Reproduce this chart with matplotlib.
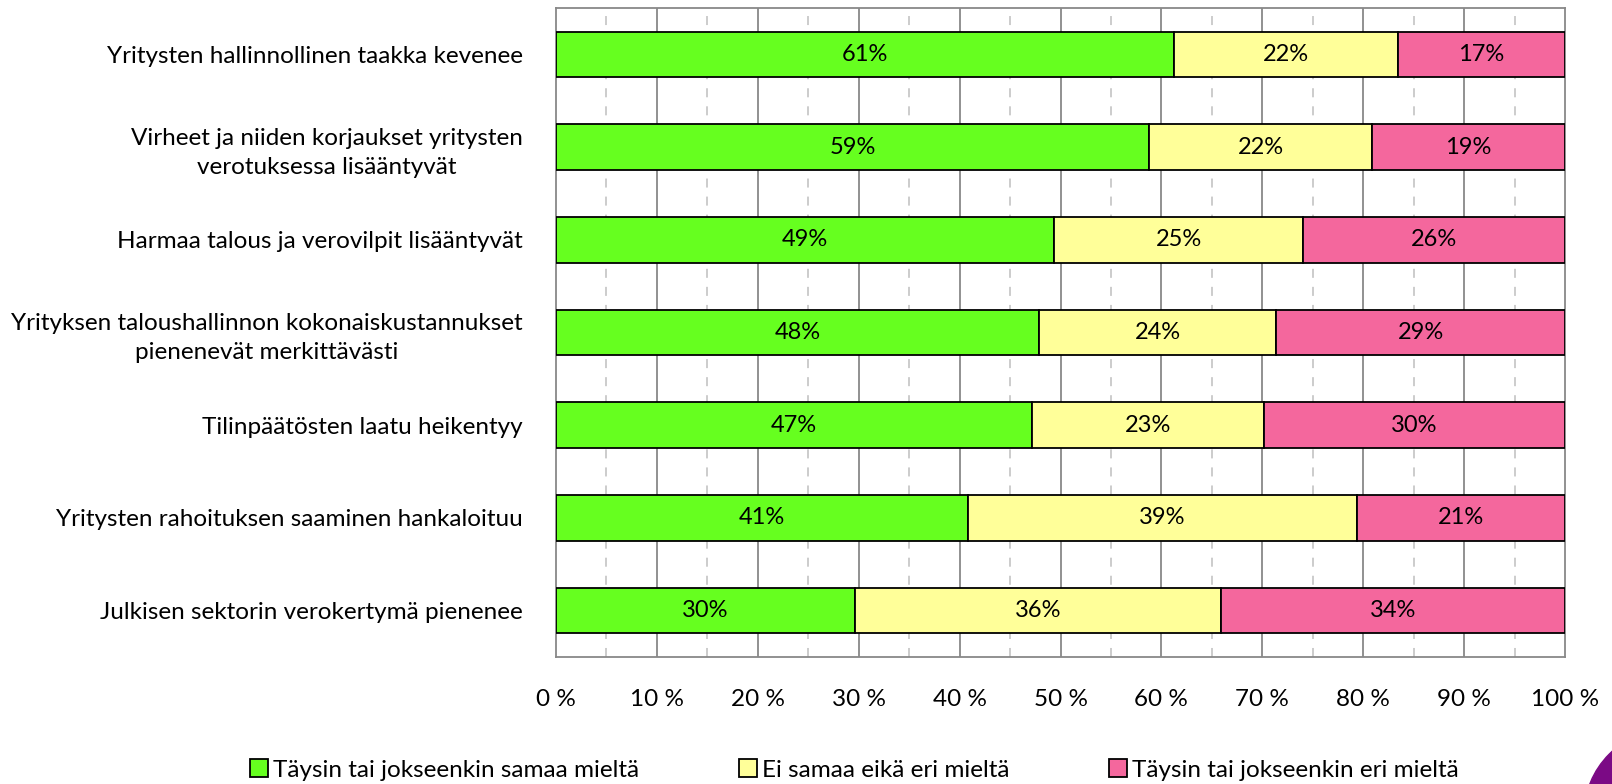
import matplotlib.pyplot as plt
import numpy as np
from matplotlib.patches import Circle
from matplotlib.transforms import IdentityTransform

plt.rcParams['font.family'] = ['Lato', 'DejaVu Sans']

categories = [
    "Yritysten hallinnollinen taakka kevenee",
    "Virheet ja niiden korjaukset yritysten\nverotuksessa lisääntyvät",
    "Harmaa talous ja verovilpit lisääntyvät",
    "Yrityksen taloushallinnon kokonaiskustannukset\npienenevät merkittävästi",
    "Tilinpäätösten laatu heikentyy",
    "Yritysten rahoituksen saaminen hankaloituu",
    "Julkisen sektorin verokertymä pienenee",
]
agree = [61.2, 58.8, 49.4, 47.9, 47.2, 40.8, 29.6]
neutral = [22.2, 22.1, 24.6, 23.5, 23.0, 38.6, 36.3]
disagree = [16.6, 19.1, 26.0, 28.6, 29.8, 20.6, 34.1]
series_names = ["Täysin tai jokseenkin samaa mieltä",
                "Ei samaa eikä eri mieltä",
                "Täysin tai jokseenkin eri mieltä"]
colors = ["#66FF1F", "#FFFF99", "#F4679D"]

fig = plt.figure(figsize=(16.12, 7.84), dpi=100)
ax = fig.add_axes([556/1612, 1-657/784, (1565-556)/1612, (657-8)/784])

y = np.arange(len(categories))
left = np.zeros(len(categories))
for vals, name, col in zip([agree, neutral, disagree], series_names, colors):
    vals = np.array(vals)
    ax.barh(y, vals, left=left, height=0.49, color=col,
            edgecolor='black', linewidth=1.3, label=name, zorder=3)
    for yi, l, v in zip(y, left, vals):
        ax.text(l + v/2, yi, f"{round(v):.0f}%", ha='center', va='center',
                fontsize=17, zorder=4)
    left += vals

ax.set_xlim(0, 100)
ax.set_ylim(len(categories) - 0.5, -0.5)
ax.set_yticks(y)
ax.set_yticklabels(categories, fontsize=17.5, multialignment='center',
                   linespacing=1.45)
ax.set_xticks(np.arange(0, 101, 10))
ax.set_xticklabels([f"{v} %" for v in range(0, 101, 10)], fontsize=17.5)
ax.tick_params(axis='x', length=0, pad=23)
ax.tick_params(axis='y', length=0, pad=24)
for v in range(10, 100, 10):
    ax.axvline(v, color='#888888', linewidth=1.3, zorder=1)
for v in range(5, 100, 10):
    ax.axvline(v, color='#c8c8c8', linewidth=1.3, linestyle=(0, (5, 5)), zorder=1)
for s in ax.spines.values():
    s.set_color('#888888')
    s.set_linewidth(1.3)

handles, labels = ax.get_legend_handles_labels()
fig.legend(handles, labels, loc='center', bbox_to_anchor=(0.53, 1-770/784),
           ncol=3, frameon=False, fontsize=17.5, handlelength=0.75,
           handleheight=0.75, handletextpad=0.2, columnspacing=4.1)

fig.patches.append(Circle((1670, 784-815), 86, transform=IdentityTransform(),
                          color='#7B0A85', clip_on=False))

fig.savefig('out.png', dpi=100)
